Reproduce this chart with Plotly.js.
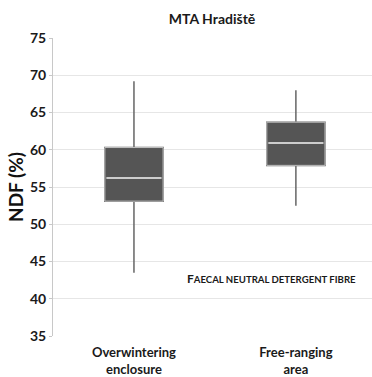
<!DOCTYPE html>
<html><head><meta charset="utf-8">
<script src="https://cdn.plot.ly/plotly-3.0.1.min.js"></script>
<style>html,body{margin:0;padding:0;background:#fff;}#c{width:372px;height:377px;}</style>
</head><body><div id="c"></div>
<script>
const categories = ["Overwintering<br>enclosure", "Free-ranging<br>area"];
const lowerWhisker = [43.5, 52.5];
const q1Values = [53.1, 57.9];
const medianValues = [56.2, 60.9];
const q3Values = [60.3, 63.7];
const upperWhisker = [69.2, 68.0];
const yTicks = [35, 40, 45, 50, 55, 60, 65, 70, 75];

const boxWidth = 0.36;
const trace = {
  type: 'box',
  x: categories,
  q1: q1Values, median: medianValues, q3: q3Values,
  lowerfence: lowerWhisker, upperfence: upperWhisker,
  fillcolor: '#555555',
  line: {color: '#666666', width: 1.5},
  whiskerwidth: 0,
  width: boxWidth,
  boxpoints: false,
  hoverinfo: 'skip'
};
const shapes = medianValues.map((m, i) => ({
  type: 'line', xref: 'x', yref: 'y',
  x0: i - boxWidth / 2 + 0.01, x1: i + boxWidth / 2 - 0.01, y0: m, y1: m,
  line: {color: '#f2f2f2', width: 1.5}
}));
q1Values.forEach((q, i) => shapes.push({
  type: 'rect', xref: 'x', yref: 'y',
  x0: i - boxWidth / 2, x1: i + boxWidth / 2, y0: q, y1: q3Values[i],
  line: {color: '#bdbdbd', width: 1}
}));

const font = 'Lato, "Open Sans", sans-serif';
const layout = {
  width: 372, height: 377,
  margin: {l: 53, r: 0, t: 37.5, b: 41},
  paper_bgcolor: '#fff', plot_bgcolor: '#fff',
  showlegend: false,
  title: {text: 'MTA Hradiště', font: {family: font, size: 14, color: '#1a1a1a', weight: 700}, x: 0.57, xanchor: 'center', y: 0.95, yanchor: 'middle'},
  xaxis: {
    type: 'category', range: [-0.5, 1.47],
    showgrid: false, zeroline: false, showline: false,
    ticks: '', tickfont: {family: font, size: 13, color: '#1a1a1a', weight: 700},
    ticklabelstandoff: 7
  },
  yaxis: {
    range: [35, 75], tickvals: yTicks, ticktext: yTicks.map(String),
    showgrid: true, gridcolor: '#e6e6e6', gridwidth: 1,
    zeroline: false, showline: true, linecolor: '#c8c8c8', linewidth: 1,
    ticks: 'outside', ticklen: 3, tickcolor: '#c8c8c8',
    tickfont: {family: font, size: 14, color: '#1a1a1a', weight: 700},
    title: {text: 'NDF (%)', font: {family: font, size: 19, color: '#111', weight: 700}, standoff: 1}
  },
  shapes: shapes,
  annotations: [{
    xref: 'paper', yref: 'y', x: 0.415, y: 42.7, xanchor: 'left', yanchor: 'middle',
    showarrow: false,
    text: '<span style="font-size:12px">F</span>AECAL NEUTRAL DETERGENT FIBRE',
    font: {family: font, size: 9.6, color: '#1a1a1a', weight: 700}
  }]
};
Plotly.newPlot('c', [trace], layout, {staticPlot: true});
</script></body></html>
